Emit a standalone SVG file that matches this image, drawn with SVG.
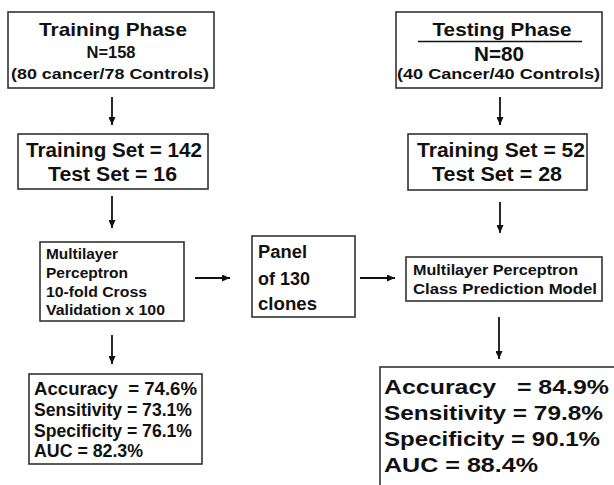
<svg xmlns="http://www.w3.org/2000/svg" width="614" height="485" viewBox="0 0 614 485">
<defs>
<style>
.box{fill:#fff;stroke:#333;stroke-width:1.6}
text{font-family:"Liberation Sans",Arial,Helvetica,sans-serif;font-weight:bold;fill:#111}
.conn{stroke:#111;stroke-width:1.8;fill:none;marker-end:url(#ah)}
</style>
<marker id="ah" markerUnits="userSpaceOnUse" markerWidth="8" markerHeight="7" refX="8" refY="3.5" orient="auto">
<path d="M0,0 L8,3.5 L0,7 z" fill="#111"/>
</marker>
</defs>
<rect width="614" height="485" fill="#fff"/>

<g id="training-phase">
<rect class="box" x="8" y="12" width="206" height="76"/>
<text x="113" y="36" font-size="18.5" text-anchor="middle" textLength="148" lengthAdjust="spacingAndGlyphs">Training Phase</text>
<text x="111" y="58" font-size="16" text-anchor="middle" textLength="49" lengthAdjust="spacingAndGlyphs">N=158</text>
<text x="110" y="79" font-size="14.5" text-anchor="middle" textLength="198" lengthAdjust="spacingAndGlyphs">(80 cancer/78 Controls)</text>
</g>

<g id="testing-phase">
<rect class="box" x="396" y="12" width="206" height="76"/>
<text x="502" y="36" font-size="18.5" text-anchor="middle" textLength="139" lengthAdjust="spacingAndGlyphs">Testing Phase</text>
<line x1="418" y1="41.5" x2="582" y2="41.5" stroke="#111" stroke-width="1.6"/>
<text x="499" y="61" font-size="19.5" text-anchor="middle" textLength="50" lengthAdjust="spacingAndGlyphs">N=80</text>
<text x="498.5" y="79" font-size="14.5" text-anchor="middle" textLength="203" lengthAdjust="spacingAndGlyphs">(40 Cancer/40 Controls)</text>
</g>

<g id="training-set-left">
<rect class="box" x="18" y="134" width="190" height="55"/>
<text x="26" y="157" font-size="20" textLength="176" lengthAdjust="spacingAndGlyphs">Training Set = 142</text>
<text x="48" y="181" font-size="20" textLength="129" lengthAdjust="spacingAndGlyphs">Test Set = 16</text>
</g>

<g id="training-set-right">
<rect class="box" x="408" y="134" width="179" height="56"/>
<text x="417" y="157" font-size="20" textLength="168" lengthAdjust="spacingAndGlyphs">Training Set = 52</text>
<text x="432" y="181" font-size="20" textLength="130" lengthAdjust="spacingAndGlyphs">Test Set = 28</text>
</g>

<g id="mlp-cv">
<rect class="box" x="40" y="242" width="144" height="79"/>
<text x="46" y="259" font-size="14.5" textLength="72" lengthAdjust="spacingAndGlyphs">Multilayer</text>
<text x="46" y="278" font-size="14.5" textLength="82" lengthAdjust="spacingAndGlyphs">Perceptron</text>
<text x="46" y="297" font-size="14.5" textLength="101" lengthAdjust="spacingAndGlyphs">10-fold Cross</text>
<text x="46" y="315" font-size="14.5" textLength="119" lengthAdjust="spacingAndGlyphs">Validation x 100</text>
</g>

<g id="panel">
<rect class="box" x="252" y="236" width="103" height="81"/>
<text x="258" y="258" font-size="17.5" textLength="49" lengthAdjust="spacingAndGlyphs">Panel</text>
<text x="258" y="285" font-size="17.5" textLength="52" lengthAdjust="spacingAndGlyphs">of 130</text>
<text x="258" y="310" font-size="17.5" textLength="59" lengthAdjust="spacingAndGlyphs">clones</text>
</g>

<g id="mlp-model">
<rect class="box" x="406" y="257" width="196" height="44"/>
<text x="413" y="275" font-size="14" textLength="165" lengthAdjust="spacingAndGlyphs">Multilayer Perceptron</text>
<text x="413" y="294" font-size="14" textLength="184" lengthAdjust="spacingAndGlyphs">Class Prediction Model</text>
</g>

<g id="results-left">
<rect class="box" x="29" y="374" width="173" height="90"/>
<text x="34" y="395" font-size="18" textLength="163" lengthAdjust="spacingAndGlyphs" xml:space="preserve">Accuracy  = 74.6%</text>
<text x="34" y="416" font-size="18" textLength="158" lengthAdjust="spacingAndGlyphs">Sensitivity = 73.1%</text>
<text x="34" y="437" font-size="18" textLength="158" lengthAdjust="spacingAndGlyphs">Specificity = 76.1%</text>
<text x="34" y="457" font-size="18" textLength="109" lengthAdjust="spacingAndGlyphs">AUC = 82.3%</text>
</g>

<g id="results-right">
<rect class="box" x="380" y="367" width="250" height="130"/>
<text x="384" y="394" font-size="21" textLength="225" lengthAdjust="spacingAndGlyphs" xml:space="preserve">Accuracy   = 84.9%</text>
<text x="384" y="420" font-size="21" textLength="219" lengthAdjust="spacingAndGlyphs">Sensitivity = 79.8%</text>
<text x="384" y="446" font-size="21" textLength="216" lengthAdjust="spacingAndGlyphs">Specificity = 90.1%</text>
<text x="384" y="472" font-size="21" textLength="154" lengthAdjust="spacingAndGlyphs">AUC = 88.4%</text>
</g>

<g id="connectors">
<line class="conn" x1="112" y1="97" x2="112" y2="125"/>
<line class="conn" x1="112" y1="196" x2="112" y2="228"/>
<line class="conn" x1="112" y1="335" x2="112" y2="364"/>
<line class="conn" x1="500" y1="97" x2="500" y2="125"/>
<line class="conn" x1="500" y1="202" x2="500" y2="233"/>
<line class="conn" x1="499" y1="317" x2="499" y2="359"/>
<line class="conn" x1="195" y1="278" x2="230" y2="278"/>
<line class="conn" x1="360" y1="278" x2="395" y2="278"/>
</g>
</svg>
